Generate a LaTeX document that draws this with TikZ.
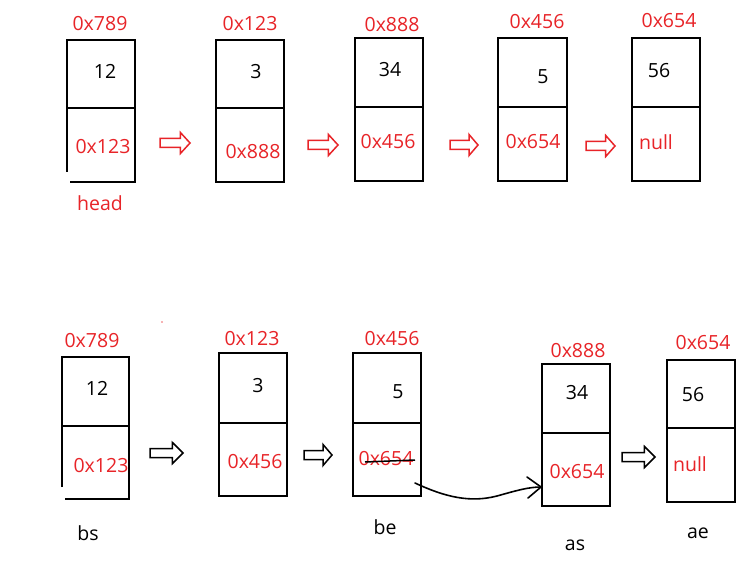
\documentclass[tikz,border=0pt]{standalone}
\usepackage{fontspec}
\setmainfont{Open Sans}
\usetikzlibrary{arrows.meta}
\definecolor{addr}{RGB}{232,36,40}
\tikzset{
  boxline/.style={line width=1.8pt, draw=black},
  lbl/.style={font=\fontsize{19.5}{21}\selectfont, inner sep=0pt, text=black},
  redlbl/.style={lbl, text=addr},
  hollow/.style={line width=1.5pt, fill=white, line join=miter},
  handline/.style={line width=1.6pt, line cap=round, line join=round},
}
% left top mid bottom right
\newcommand\cellbox[5]{%
  \draw[boxline] (#1,#2) rectangle (#5,#4);
  \draw[boxline] (#1,#3) -- (#5,#3);}
% x1 x2 y colour
\newcommand\blockarrow[4]{%
  \draw[hollow, draw=#4] (#1,#3-4.5) -- ({#1+0.68*(#2-#1)},#3-4.5) -- ({#1+0.68*(#2-#1)},#3-10.5)
    -- (#2,#3) -- ({#1+0.68*(#2-#1)},#3+10.5) -- ({#1+0.68*(#2-#1)},#3+4.5) -- (#1,#3+4.5) -- cycle;}
\begin{document}
\begin{tikzpicture}[x=1pt,y=-1pt]
\useasboundingbox (0,0) rectangle (738,564);
\fill[white] (0,0) rectangle (738,564);

% ---------- top row ----------
% box 1 (head) with open corner
\draw[boxline] (67,172) -- (67,40) -- (135,40) -- (135,182) -- (70,182);
\draw[boxline] (66,108) -- (135,108);
\node[redlbl] (t1addr) at (100,24) {0x789};
\node[lbl]    (t1val)  at (105,71) {12};
\node[redlbl] (t1next) at (103,147) {0x123};
\node[redlbl] (t1name) at (100,203) {head};

\cellbox{216}{40}{108}{182}{284}
\node[redlbl] (t2addr) at (250,24) {0x123};
\node[lbl]    (t2val)  at (256,72) {3};
\node[redlbl] (t2next) at (253,152) {0x888};

\cellbox{355}{38}{107}{181}{423}
\node[redlbl] (t3addr) at (392,25) {0x888};
\node[lbl]    (t3val)  at (390,70) {34};
\node[redlbl] (t3next) at (388,142) {0x456};

\cellbox{498}{38}{107}{181}{567}
\node[redlbl] (t4addr) at (537,22) {0x456};
\node[lbl]    (t4val)  at (543,77) {5};
\node[redlbl] (t4next) at (533,142) {0x654};

\cellbox{632}{38}{107}{181}{700}
\node[redlbl] (t5addr) at (669,21) {0x654};
\node[lbl]    (t5val)  at (659,71) {56};
\node[redlbl] (t5next) at (656,142) {null};

\blockarrow{160}{190}{143}{addr}
\blockarrow{308}{338}{145}{addr}
\blockarrow{450}{478}{145}{addr}
\blockarrow{586}{615}{146}{addr}

% ---------- bottom row ----------
\fill[addr!70] (162,322) circle (0.9);

\draw[boxline] (62,487) -- (62,357) -- (129,357) -- (129,499) -- (65,499);
\draw[boxline] (61,426) -- (129,426);
\node[redlbl] (b1addr) at (92,341) {0x789};
\node[lbl]    (b1val)  at (97,388) {12};
\node[redlbl] (b1next) at (101,466) {0x123};
\node[lbl]    (b1name) at (88,533) {bs};

\cellbox{219}{353}{423}{496}{287}
\node[redlbl] (b2addr) at (252,339) {0x123};
\node[lbl]    (b2val)  at (258,386) {3};
\node[redlbl] (b2next) at (255,462) {0x456};

\cellbox{353}{353}{423}{496}{421}
\node[redlbl] (b3addr) at (392,339) {0x456};
\node[lbl]    (b3val)  at (398,392) {5};
\node[redlbl] (b3next) at (386,459) {0x654};
\draw[line width=1.5pt] (365,462) -- (415,460);
\node[lbl]    (b3name) at (385,527) {be};

\cellbox{542}{364}{433}{506}{610}
\node[redlbl] (b4addr) at (578,351) {0x888};
\node[lbl]    (b4val)  at (577,393) {34};
\node[redlbl] (b4next) at (577,472) {0x654};
\node[lbl]    (b4name) at (575,545) {as};

\cellbox{667}{360}{428}{502}{735}
\node[redlbl] (b5addr) at (703,343) {0x654};
\node[lbl]    (b5val)  at (693,395) {56};
\node[redlbl] (b5next) at (690,464) {null};
\node[lbl]    (b5name) at (698,533) {ae};

\blockarrow{150}{183}{453}{black}
\blockarrow{304}{332}{455}{black}
\blockarrow{622}{655}{457}{black}

% hand-drawn connector be -> as
\coordinate (bestart) at (415,483);
\coordinate (asend) at (541,487);
\draw[handline]
  (bestart) .. controls (445,497) and (470,503) .. (497,496) .. controls (515,491) and (528,487) .. (asend);
\draw[handline] (527,477) -- (asend) -- (528,498);
\end{tikzpicture}
\end{document}
